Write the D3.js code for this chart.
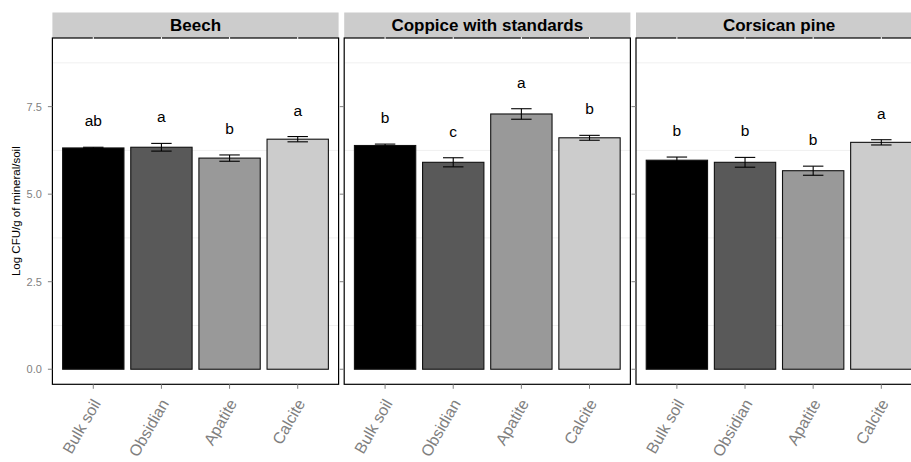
<!DOCTYPE html>
<html>
<head>
<meta charset="utf-8">
<script src="https://cdn.jsdelivr.net/npm/d3@7"></script>
<style>
  body { margin: 0; background: #fff; }
  svg { display: block; font-family: "Liberation Sans", Arial, Helvetica, sans-serif; }
</style>
</head>
<body>
<div id="chart"></div>
<script>
// sites (facets) and substrates
const sites = ['Beech', 'Coppice with standards', 'Corsican pine'];
const minerals = ['Bulk soil', 'Obsidian', 'Apatite', 'Calcite'];

// mean log CFU per site, in mineral order
const beechMean    = [6.32, 6.34, 6.03, 6.57];
const coppiceMean  = [6.39, 5.91, 7.29, 6.61];
const corsicanMean = [5.97, 5.91, 5.67, 6.48];

// standard errors
const beechSe    = [0.02, 0.11, 0.09, 0.075];
const coppiceSe  = [0.04, 0.13, 0.15, 0.07];
const corsicanSe = [0.09, 0.14, 0.13, 0.075];

// significance letters
const beechLetters    = ['ab', 'a', 'b', 'a'];
const coppiceLetters  = ['b', 'c', 'a', 'b'];
const corsicanLetters = ['b', 'b', 'b', 'a'];

const yTicks = [0, 2.5, 5, 7.5];
const yMinor = [1.25, 3.75, 6.25, 8.75];

const fills = ['#000000', '#595959', '#999999', '#cccccc'];

const means = [beechMean, coppiceMean, corsicanMean];
const ses = [beechSe, coppiceSe, corsicanSe];
const letters = [beechLetters, coppiceLetters, corsicanLetters];

const width = 911, height = 462;
const panelLeft = 52.4, panelW = 286.2, panelGap = 5.6;
const panelTop = 38, panelBottom = 384.3;
const stripTop = 12.5;

const svg = d3.select('#chart').append('svg')
  .attr('width', width)
  .attr('height', height);

svg.append('rect').attr('width', width).attr('height', height).attr('fill', '#fff');

const y = d3.scaleLinear().domain([-0.43, 9.46]).range([panelBottom, panelTop]);

sites.forEach((site, p) => {
  const x0 = panelLeft + p * (panelW + panelGap);
  const x = d3.scalePoint().domain(minerals).range([x0, x0 + panelW]).padding(0.6);
  const step = x.step();
  const g = svg.append('g');

  // strip
  g.append('rect')
    .attr('x', x0).attr('y', stripTop)
    .attr('width', panelW).attr('height', panelTop - stripTop)
    .attr('fill', '#cccccc');
  g.append('text')
    .attr('x', x0 + panelW / 2).attr('y', (stripTop + panelTop) / 2)
    .attr('text-anchor', 'middle').attr('dominant-baseline', 'central')
    .attr('font-size', 17).attr('font-weight', 'bold')
    .text(site);

  // minor grid (very light)
  g.selectAll('.minor').data(yMinor).join('line')
    .attr('x1', x0).attr('x2', x0 + panelW)
    .attr('y1', d => y(d)).attr('y2', d => y(d))
    .attr('stroke', '#f0f0f0').attr('stroke-width', 1);

  // panel border
  g.append('rect')
    .attr('x', x0).attr('y', panelTop)
    .attr('width', panelW).attr('height', panelBottom - panelTop)
    .attr('fill', 'none').attr('stroke', '#000').attr('stroke-width', 1.2);

  // white major grid nicks on the top border
  g.selectAll('.vnick').data(minerals).join('line')
    .attr('x1', d => x(d)).attr('x2', d => x(d))
    .attr('y1', panelTop - 1).attr('y2', panelTop + 1)
    .attr('stroke', '#fff').attr('stroke-width', 1);

  // y ticks on every panel
  g.selectAll('.ytick').data(yTicks).join('line')
    .attr('x1', x0 - 4.5).attr('x2', x0)
    .attr('y1', d => y(d)).attr('y2', d => y(d))
    .attr('stroke', '#7f7f7f').attr('stroke-width', 1);

  if (p === 0) {
    g.selectAll('.ylab').data(yTicks).join('text')
      .attr('x', x0 - 10.5).attr('y', d => y(d))
      .attr('text-anchor', 'end').attr('dominant-baseline', 'central')
      .attr('font-size', 11).attr('fill', '#7f7f7f')
      .text(d => d3.format('.1f')(d));
  }

  // x ticks and labels
  g.selectAll('.xtick').data(minerals).join('line')
    .attr('x1', d => x(d)).attr('x2', d => x(d))
    .attr('y1', panelBottom).attr('y2', panelBottom + 4.5)
    .attr('stroke', '#7f7f7f').attr('stroke-width', 1);

  g.selectAll('.xlab').data(minerals).join('text')
    .attr('transform', d => `translate(${x(d) + 8},${panelBottom + 19}) rotate(-60)`)
    .attr('text-anchor', 'end')
    .attr('font-size', 16).attr('fill', '#7f7f7f')
    .text(d => d);

  const rows = minerals.map((m, i) => ({ m, mean: means[p][i], se: ses[p][i], letter: letters[p][i], fill: fills[i] }));

  // bars
  g.selectAll('.bar').data(rows).join('rect')
    .attr('x', d => x(d.m) - step * 0.45)
    .attr('width', step * 0.9)
    .attr('y', d => y(d.mean))
    .attr('height', d => y(0) - y(d.mean))
    .attr('fill', d => d.fill)
    .attr('stroke', '#111').attr('stroke-width', 1.1);

  // error bars
  const eb = g.selectAll('.err').data(rows).join('g');
  eb.append('line')
    .attr('x1', d => x(d.m)).attr('x2', d => x(d.m))
    .attr('y1', d => y(d.mean + d.se)).attr('y2', d => y(d.mean - d.se))
    .attr('stroke', '#000').attr('stroke-width', 1.1);
  eb.append('line')
    .attr('x1', d => x(d.m) - step * 0.15).attr('x2', d => x(d.m) + step * 0.15)
    .attr('y1', d => y(d.mean + d.se)).attr('y2', d => y(d.mean + d.se))
    .attr('stroke', '#000').attr('stroke-width', 1.1);
  eb.append('line')
    .attr('x1', d => x(d.m) - step * 0.15).attr('x2', d => x(d.m) + step * 0.15)
    .attr('y1', d => y(d.mean - d.se)).attr('y2', d => y(d.mean - d.se))
    .attr('stroke', '#000').attr('stroke-width', 1.1);

  // letters
  g.selectAll('.letter').data(rows).join('text')
    .attr('x', d => x(d.m))
    .attr('y', d => y(d.mean + d.se) - 21)
    .attr('text-anchor', 'middle')
    .attr('font-size', 15.5)
    .text(d => d.letter);
});

// y axis title
svg.append('text')
  .attr('transform', `translate(20,${(panelTop + panelBottom) / 2}) rotate(-90)`)
  .attr('text-anchor', 'middle')
  .attr('font-size', 11.5)
  .text('Log CFU/g of mineral/soil');
</script>
</body>
</html>
